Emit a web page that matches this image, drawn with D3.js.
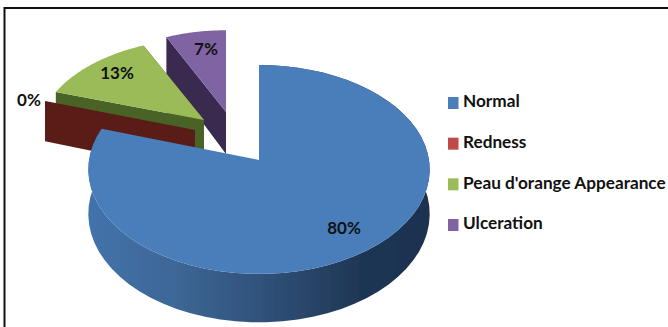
<!DOCTYPE html>
<html><head><meta charset="utf-8">
<script src="https://cdn.jsdelivr.net/npm/d3@7/dist/d3.min.js"></script>
<style>html,body{margin:0;padding:0;background:#fff}svg{display:block}text{font-family:Lato,"Open Sans",sans-serif;font-weight:700;fill:#111}</style>
</head><body><div id="c"></div>
<script>
const categories = ["Normal","Redness","Peau d'orange Appearance","Ulceration"];
const values = [80,0,13,7];
const labels = ["80%","0%","13%","7%"];
const topColors = ["#4a7ebb","#be4b48","#9bbb59","#8064a2"];
const wallColors = ["#2f5078","#5a1a18","#4a6225","#3a2c50"];

const W=668,H=327;
const svg=d3.select("#c").append("svg").attr("width",W).attr("height",H);
const defs=svg.append("defs");
const g=defs.append("linearGradient").attr("id","blueWall").attr("x1",0).attr("x2",1).attr("y1",0).attr("y2",0);
[[0,"#4373ab"],[.25,"#3d6797"],[.55,"#2e4e75"],[.8,"#1f3654"],[1,"#1c3150"]].forEach(s=>g.append("stop").attr("offset",s[0]).attr("stop-color",s[1]));
defs.append("filter").attr("id","soft").append("feGaussianBlur").attr("stdDeviation",0.45);

const pie=d3.pie().sort(null).value(d=>d)(values);
const placement=[
 {cx:259,cy:160,rx:170,ry:103.6,k:.0909,depth:44},
 {cx:195,cy:130,rx:165,ry:98,k:.15,depth:42},
 {cx:204,cy:120,rx:164,ry:95,k:.17,depth:42},
 {cx:226,cy:112,rx:159,ry:94,k:.15,depth:42}
];
const proj=(p,a,r=1,dz=0)=>{
  const u=r*Math.sin(a),v=-r*Math.cos(a),s=1/(1-p.k*v);
  return [p.cx+p.rx*u*s,p.cy+p.ry*v*s+dz*s];
};
const arcPts=(p,a0,a1,dz=0)=>d3.range(0,61).map(i=>proj(p,a0+(a1-a0)*i/60,1,dz));
const line=d3.line();
const chart=svg.append("g").attr("filter","url(#soft)");

function topFace(i){
  const p=placement[i],d=pie[i];
  const pts=[[p.cx,p.cy],...arcPts(p,d.startAngle,d.endAngle)];
  chart.append("path").attr("d",line(pts)+"Z").attr("fill",topColors[i]);
}
function radialWall(i,a,fill){
  const p=placement[i];
  const o=proj(p,a),o2=proj(p,a,1,p.depth);
  chart.append("path").attr("d",line([[p.cx,p.cy],o,o2,[p.cx,p.cy+p.depth]])+"Z").attr("fill",fill);
}
// back to front: Ulceration, Peau d'orange, Redness, Normal
radialWall(3,pie[3].startAngle,wallColors[3]);
topFace(3);
radialWall(2,pie[2].endAngle,wallColors[2]);
radialWall(2,pie[2].startAngle,wallColors[2]);
topFace(2);
radialWall(1,pie[1].startAngle,wallColors[1]);
const n=pie[0];
chart.append("path").attr("d",line([...arcPts(placement[0],n.startAngle,n.endAngle),...arcPts(placement[0],n.endAngle,n.startAngle,placement[0].depth)])+"Z").attr("fill","url(#blueWall)");
topFace(0);

// data labels
const labelAt=[[344,230],[29,102],[117,75],[206,51]];
labels.forEach((t,i)=>svg.append("text").attr("x",labelAt[i][0]).attr("y",labelAt[i][1]).attr("text-anchor","middle").attr("dominant-baseline","middle").attr("font-size",17).text(t));

// legend
const legendY=d3.scalePoint().domain(categories).range([103,225]);
const lg=svg.selectAll("g.l").data(categories).join("g").attr("class","l").attr("transform",d=>`translate(448,${legendY(d)})`);
lg.append("rect").attr("x",0).attr("y",-6).attr("width",10.5).attr("height",12).attr("fill",(d,i)=>topColors[i]);
lg.append("text").attr("x",15).attr("y",0).attr("dominant-baseline","middle").attr("font-size",17.2).text(d=>d);

// frame
svg.append("path").attr("d","M4.5,327V8H668").attr("fill","none").attr("stroke","#111").attr("stroke-width",2);
</script></body></html>
